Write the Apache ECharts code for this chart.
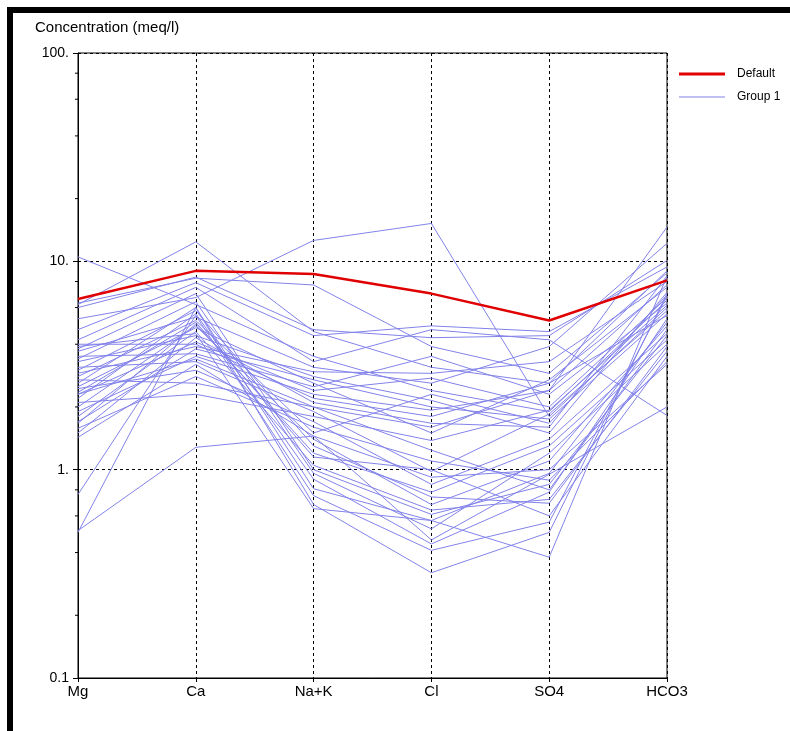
<!DOCTYPE html>
<html>
<head>
<meta charset="utf-8">
<script src="https://cdn.jsdelivr.net/npm/echarts@6/dist/echarts.min.js"></script>
<style>
  html, body { margin: 0; padding: 0; background: #fff; overflow: hidden; }
  #frame {
    position: absolute; left: 7px; top: 7px; width: 820px; height: 760px;
    border-top: 6px solid #000; border-left: 6px solid #000;
  }
  #chart { position: absolute; left: 0; top: 0; width: 790px; height: 731px; }
</style>
</head>
<body>
<div id="frame"></div>
<div id="chart"></div>
<script>
// ions along the x axis
const ions = ["Mg", "Ca", "Na+K", "Cl", "SO4", "HCO3"];

// minor tick marks on the log axis
const minorTickValues = [0.2, 0.4, 0.6, 0.8, 2, 4, 6, 8, 20, 40, 60, 80];

// "Default" sample (meq/l), same order as ions
const defaultSample = [6.6, 9.0, 8.7, 7.0, 5.2, 8.1];

// "Group 1" samples, one row per sample: Mg, Ca, Na+K, Cl, SO4, HCO3
const group1 = [
  [10.5, 6.2, 3.5, 2.4, 1.9, 6.5],
  [6.2, 12.4, 4.6, 3.1, 2.6, 9.0],
  [5.3, 6.7, 12.6, 15.2, 1.8, 6.0],
  [6.3, 8.3, 7.7, 3.9, 2.9, 8.8],
  [6.0, 8.4, 4.7, 4.3, 4.4, 10.1],
  [4.7, 7.9, 4.4, 4.9, 4.6, 9.4],
  [4.2, 7.5, 3.3, 4.7, 4.2, 1.82],
  [4.0, 4.0, 2.2, 1.8, 2.6, 5.5],
  [3.8, 7.0, 1.0, 0.61, 0.85, 4.4],
  [3.7, 5.4, 3.1, 2.6, 3.9, 12.2],
  [3.5, 3.6, 2.5, 3.5, 2.3, 6.3],
  [3.4, 6.4, 0.96, 0.52, 1.2, 4.0],
  [3.3, 4.4, 2.8, 2.15, 1.5, 7.1],
  [3.1, 3.3, 1.9, 0.98, 1.85, 5.8],
  [3.0, 5.8, 1.3, 0.74, 0.69, 3.9],
  [2.9, 3.9, 2.95, 2.9, 3.3, 8.0],
  [2.8, 5.2, 1.5, 2.3, 1.67, 6.9],
  [2.7, 2.6, 2.0, 1.24, 0.8, 4.7],
  [2.6, 6.0, 0.81, 0.57, 0.96, 5.1],
  [2.5, 4.8, 2.6, 1.5, 2.7, 7.5],
  [2.45, 3.0, 1.7, 0.85, 1.4, 4.5],
  [2.35, 5.1, 1.15, 1.0, 0.6, 3.5],
  [2.3, 4.1, 2.4, 2.75, 2.0, 6.7],
  [2.2, 5.6, 0.9, 0.44, 0.78, 5.3],
  [2.1, 2.3, 1.8, 1.38, 1.93, 6.15],
  [2.0, 4.9, 1.4, 0.68, 1.1, 4.9],
  [1.9, 3.5, 2.3, 1.93, 2.4, 7.7],
  [1.8, 4.6, 1.05, 0.64, 0.72, 3.7],
  [1.7, 3.8, 2.7, 2.0, 1.75, 5.6],
  [1.67, 5.0, 1.2, 0.78, 1.3, 4.2],
  [1.58, 2.8, 1.6, 1.1, 0.89, 3.3],
  [1.5, 4.3, 2.1, 1.67, 1.6, 8.5],
  [1.43, 3.2, 1.45, 0.92, 1.0, 3.2],
  [0.76, 5.5, 0.75, 0.41, 0.56, 6.8],
  [0.51, 1.28, 1.45, 0.46, 0.95, 2.0],
  [0.5, 6.0, 0.68, 0.32, 0.5, 7.0],
  [3.9, 4.5, 0.65, 0.57, 0.38, 8.5],
  [2.3, 3.4, 2.0, 1.6, 2.4, 14.6],
];

const font = "'Liberation Sans', Arial, sans-serif";
const blue = "#8282ea";
const red = "#e00000";

let chart = echarts.init(document.getElementById("chart"));

let series = group1.map((row) => ({
  name: "Group 1",
  type: "line",
  data: row,
  symbol: "none",
  lineStyle: { color: blue, width: 1 },
  itemStyle: { color: blue },
  z: 2,
}));

series.push({
  name: "Default",
  type: "line",
  data: defaultSample,
  symbol: "none",
  lineStyle: { color: red, width: 2.5 },
  itemStyle: { color: red },
  z: 4,
});

// small minor ticks on the left of the log axis
series.push({
  type: "custom",
  silent: true,
  clip: false,
  z: 5,
  data: minorTickValues.map((v) => [0, v]),
  renderItem: (params, api) => {
    const p = api.coord([0, api.value(1)]);
    return {
      type: "line",
      shape: { x1: p[0] - 3, y1: p[1], x2: p[0], y2: p[1] },
      style: { stroke: "#000", lineWidth: 1 },
    };
  },
});

// one legend per entry so each gets its own line thickness
const legendText = { fontSize: 12, color: "#000", fontFamily: font, padding: [0, 0, 0, 7] };

chart.setOption({
  animation: false,
  backgroundColor: "transparent",
  textStyle: { fontFamily: font, color: "#000" },
  title: {
    text: "Concentration (meq/l)",
    left: 35,
    top: 20,
    padding: 0,
    textStyle: { fontSize: 15, fontWeight: "normal", color: "#000", fontFamily: font },
  },
  legend: [
    {
      data: ["Default"],
      icon: "rect",
      left: 679,
      top: 68,
      padding: 0,
      itemWidth: 46,
      itemHeight: 3,
      textStyle: legendText,
    },
    {
      data: ["Group 1"],
      icon: "rect",
      left: 679,
      top: 91,
      padding: 0,
      itemWidth: 46,
      itemHeight: 1,
      textStyle: legendText,
    },
  ],
  grid: {
    left: 78,
    right: 123,
    top: 53,
    bottom: 53,
    show: true,
    borderColor: "#000",
    borderWidth: 1,
    backgroundColor: "transparent",
  },
  xAxis: {
    type: "category",
    data: ions,
    boundaryGap: false,
    axisLine: { show: true, lineStyle: { color: "#000", width: 1 } },
    axisTick: { show: true, length: 4, lineStyle: { color: "#000" } },
    axisLabel: { color: "#000", fontSize: 15, margin: 6, fontFamily: font },
    splitLine: { show: true, lineStyle: { color: "#000", width: 1, type: [3, 3] } },
  },
  yAxis: {
    type: "log",
    logBase: 10,
    min: 0.1,
    max: 100,
    axisLine: { show: true, lineStyle: { color: "#000", width: 1 } },
    axisTick: { show: true, length: 5, lineStyle: { color: "#000" } },
    axisLabel: {
      color: "#000",
      fontSize: 14,
      margin: 9,
      fontFamily: font,
      formatter: (v) => (v < 1 ? "0.1" : Math.round(v) + "."),
    },
    splitLine: { show: true, lineStyle: { color: "#000", width: 1, type: [3, 3] } },
    minorTick: { show: false },
  },
  series: series,
});
</script>
</body>
</html>
